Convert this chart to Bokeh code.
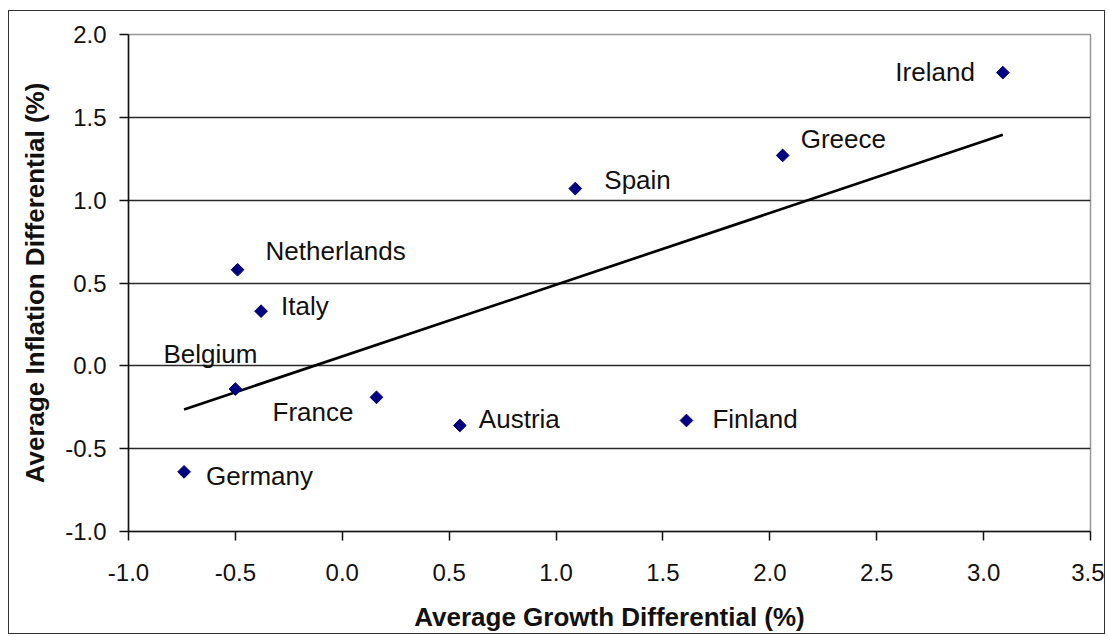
import numpy as np
from bokeh.plotting import figure
from bokeh.models import ColumnDataSource, Range1d, SingleIntervalTicker, NumeralTickFormatter
from bokeh.core.properties import value
from bokeh.embed import file_html
from bokeh.resources import INLINE

# ---- data ----
countries = ["Ireland", "Greece", "Spain", "Netherlands", "Italy",
             "Belgium", "France", "Austria", "Finland", "Germany"]
growth_diff = [3.09, 2.06, 1.09, -0.49, -0.38, -0.50, 0.16, 0.55, 1.61, -0.74]
inflation_diff = [1.77, 1.27, 1.07, 0.58, 0.33, -0.14, -0.19, -0.36, -0.33, -0.64]

# ---- label placement (screen-pixel offsets, styling only) ----
label_dx = [-28, 18, 29, 28, 20, -72, -23, 19, 26, 22]
label_dy = [-1, -16, -9, -19, -5, -35, 15, -6, -2, 4]
label_align = ["right", "left", "left", "left", "left",
               "left", "right", "left", "left", "left"]

FONT = "Liberation Sans"

p = figure(width=1097, height=624, output_backend="svg", toolbar_location=None,
           x_range=Range1d(-1.0, 3.5), y_range=Range1d(-1.0, 2.0),
           min_border_left=119, min_border_right=16, min_border_top=23,
           min_border_bottom=104)
p.styles = {"border": "1.5px solid #333333", "box-sizing": "border-box",
            "margin-left": "8px", "margin-top": "10px"}

p.background_fill_color = "white"
p.border_fill_color = "white"
p.outline_line_color = "#999999"
p.outline_line_width = 1.5

p.xgrid.visible = False
p.ygrid.grid_line_color = "#2a2a2a"
p.ygrid.grid_line_width = 1.3

for ax in (p.xaxis, p.yaxis):
    ax.ticker = SingleIntervalTicker(interval=0.5)
    ax.formatter = NumeralTickFormatter(format="0.0")
    ax.minor_tick_line_color = None
    ax.major_tick_in = 0
    ax.major_tick_out = 9
    ax.major_tick_line_color = "#111111"
    ax.major_tick_line_width = 1.5
    ax.axis_line_color = "#111111"
    ax.axis_line_width = 1.5
    ax.major_label_text_font = FONT
    ax.major_label_text_font_size = "24px"
    ax.major_label_text_color = "#111111"
    ax.axis_label_text_font = FONT
    ax.axis_label_text_font_size = "26px"
    ax.axis_label_text_font_style = "bold"
    ax.axis_label_text_color = "#111111"

p.xaxis.axis_label = "Average Growth Differential (%)"
p.yaxis.axis_label = "Average Inflation Differential (%)"
p.xaxis.major_label_standoff = 23
p.xaxis.axis_label_standoff = 18
p.yaxis.major_label_standoff = 13
p.yaxis.axis_label_standoff = 12

# trend line (least squares fit of the data)
gx = np.array(growth_diff)
iy = np.array(inflation_diff)
slope, intercept = np.polyfit(gx, iy, 1)
tx = [gx.min(), gx.max()]
ty = [slope * t + intercept for t in tx]
p.line(tx, ty, line_color="black", line_width=2.7)

src = ColumnDataSource(dict(x=growth_diff, y=inflation_diff, name=countries,
                            dx=label_dx, dy=label_dy, align=label_align))

p.scatter("x", "y", source=src, marker="square", angle=np.pi / 4, size=9,
          fill_color="#000080", line_color="#000080")

p.text("x", "y", text="name", source=src, x_offset="dx", y_offset="dy",
       text_align="align", text_baseline="middle",
       text_font=value(FONT), text_font_size="26px", text_color="#111111")

open("out.html", "w").write(file_html(p, INLINE))
